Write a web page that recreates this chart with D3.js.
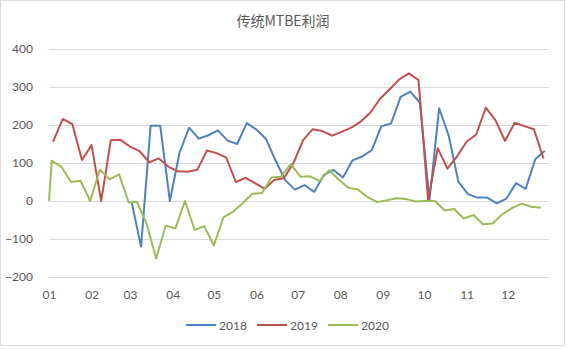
<!DOCTYPE html>
<html>
<head>
<meta charset="utf-8">
<script src="https://cdn.jsdelivr.net/npm/d3@7"></script>
<style>
  html, body { margin: 0; padding: 0; background: #fff; }
  svg text { font-family: Lato, "Noto Sans CJK SC", sans-serif; fill: #595959; }
</style>
</head>
<body>
<script>
// Weekly MTBE margin, plotted by month-day on a shared calendar axis.
const title = "传统MTBE利润";
const seriesNames = ["2018", "2019", "2020"];
const colors = ["#4F81BD", "#C0504D", "#9BBB59"];
const yTicks = [-200, -100, 0, 100, 200, 300, 400];

const dates2018 = ["03-02","03-09","03-16","03-23","03-30","04-06","04-13","04-20","04-27","05-04","05-11","05-18","05-25","06-01","06-08","06-15","06-22","06-29","07-06","07-13","07-20","07-27","08-03","08-10","08-17","08-24","08-31","09-07","09-14","09-21","09-28","10-05","10-12","10-19","10-26","11-02","11-09","11-16","11-23","11-30","12-07","12-14","12-21","12-28"];
const values2018 = [0,-120,198,198,0,127,193,164,173,186,159,150,205,188,163,106,55,30,42,24,68,82,62,107,117,134,197,204,274,288,259,2,244,172,51,18,9,9,-6,6,47,32,110,132];

const dates2019 = ["01-04","01-11","01-18","01-25","02-01","02-08","02-15","02-22","03-01","03-08","03-15","03-22","03-29","04-05","04-12","04-19","04-26","05-03","05-10","05-17","05-24","05-31","06-07","06-14","06-21","06-28","07-05","07-12","07-19","07-26","08-02","08-09","08-16","08-23","08-30","09-06","09-13","09-20","09-27","10-04","10-11","10-18","10-25","11-01","11-08","11-15","11-22","11-29","12-06","12-13","12-20","12-27"];
const values2019 = [156,216,202,108,147,0,160,161,143,131,102,112,90,78,77,82,133,126,114,50,61,47,32,55,60,100,160,189,184,172,182,193,209,233,269,294,320,336,318,2,139,85,117,156,175,246,213,158,206,197,189,112];

const dates2020 = ["01-01","01-03","01-10","01-17","01-24","01-31","02-07","02-14","02-21","02-28","03-06","03-13","03-20","03-27","04-03","04-10","04-17","04-24","05-01","05-08","05-15","05-22","05-29","06-05","06-12","06-19","06-26","07-03","07-10","07-17","07-24","07-31","08-07","08-14","08-21","08-28","09-04","09-11","09-18","09-25","10-02","10-09","10-16","10-23","10-30","11-06","11-13","11-20","11-27","12-04","12-11","12-18","12-25"];
const values2020 = [0,106,90,50,53,0,83,57,70,-4,-2,-59,-151,-65,-72,0,-76,-66,-117,-43,-28,-6,19,21,62,64,97,64,65,53,81,56,35,30,10,-3,2,7,5,-1,0,0,-25,-21,-46,-37,-61,-59,-35,-19,-7,-15,-18];

const W = 567, H = 349;
const margin = { left: 49, right: 18, top: 49, bottom: 72 };

// Every series is placed on one common (non-leap) calendar year.
const refYear = 2021;
const parseMD = d3.timeParse("%Y-%m-%d");
const toDate = md => parseMD(refYear + "-" + md);

const series = [
  { name: seriesNames[0], color: colors[0], pts: dates2018.map((d, i) => ({ date: toDate(d), value: values2018[i] })) },
  { name: seriesNames[1], color: colors[1], pts: dates2019.map((d, i) => ({ date: toDate(d), value: values2019[i] })) },
  { name: seriesNames[2], color: colors[2], pts: dates2020.map((d, i) => ({ date: toDate(d), value: values2020[i] })) }
];

const svg = d3.select("body").append("svg")
  .attr("width", W).attr("height", H);

// outer frame of the chart
svg.append("rect")
  .attr("x", 0.5).attr("y", 0.5)
  .attr("width", W - 3).attr("height", H - 4)
  .attr("fill", "#fff").attr("stroke", "#d9d9d9");

const x = d3.scaleTime()
  .domain([new Date(refYear, 0, 1), new Date(refYear, 11, 31)])
  .range([margin.left, W - margin.right]);

const y = d3.scaleLinear()
  .domain([-200, 400])
  .range([277, 49]);

// horizontal gridlines and value labels
const yAxis = d3.axisLeft(y).tickValues(yTicks).tickSize(-(x.range()[1] - x.range()[0])).tickPadding(16);
const gy = svg.append("g").attr("transform", `translate(${margin.left},0)`).call(yAxis);
gy.select(".domain").remove();
gy.selectAll(".tick line").attr("stroke", "#d9d9d9").attr("stroke-width", 1);
gy.selectAll(".tick text").attr("font-size", 12).style("fill", "#595959");

// month labels along the bottom
const months = d3.timeMonths(new Date(refYear, 0, 1), new Date(refYear, 11, 2));
const xAxis = d3.axisBottom(x).tickValues(months).tickFormat(d3.timeFormat("%m")).tickSize(0).tickPadding(13);
const gx = svg.append("g").attr("transform", `translate(0,${y(-200)})`).call(xAxis);
gx.select(".domain").remove();
gx.selectAll(".tick text").attr("font-size", 12).style("fill", "#595959");

const line = d3.line()
  .x(d => x(d.date))
  .y(d => y(d.value));

svg.append("g").selectAll("path")
  .data(series)
  .join("path")
  .attr("d", d => line(d.pts))
  .attr("fill", "none")
  .attr("stroke", d => d.color)
  .attr("stroke-width", 2)
  .attr("stroke-linejoin", "round");

// title
svg.append("text")
  .attr("x", 283).attr("y", 26)
  .attr("text-anchor", "middle")
  .attr("font-size", 14)
  .style("font-family", "'Noto Sans CJK SC', sans-serif")
  .text(title);

// legend
const legendX = [186, 257, 328];
const lg = svg.append("g").selectAll("g")
  .data(series)
  .join("g")
  .attr("transform", (d, i) => `translate(${legendX[i]},325)`);
lg.append("line")
  .attr("x1", 0).attr("x2", 30).attr("y1", 0).attr("y2", 0)
  .attr("stroke", d => d.color).attr("stroke-width", 2);
lg.append("text")
  .attr("x", 33).attr("y", 4.5)
  .attr("font-size", 12)
  .text(d => d.name);
</script>
</body>
</html>
